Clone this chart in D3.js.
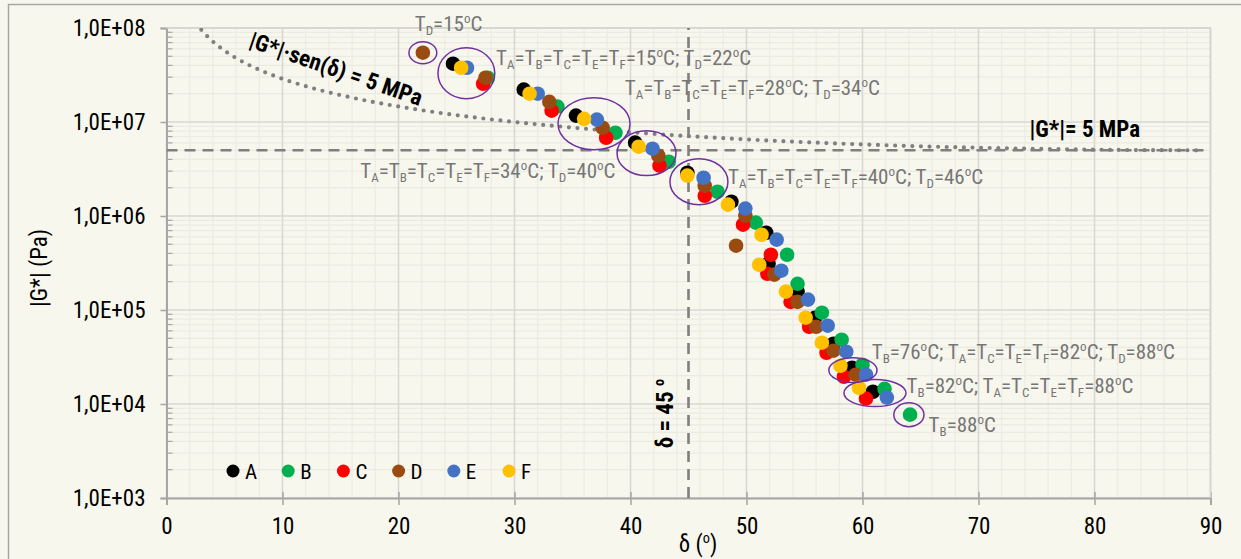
<!DOCTYPE html>
<html><head><meta charset="utf-8">
<script src="https://cdn.jsdelivr.net/npm/d3@7"></script>
<style>body{margin:0;background:#F8F7EE}svg{display:block}</style>
</head><body>
<svg id="c" width="1241" height="559"></svg>
<script>
// ---------- data ----------
const temps = [15,22,28,34,40,46,52,58,64,70,76,82,88];
const seriesNames = ["A","B","C","D","E","F"];
const seriesColors = ["#000000","#00B050","#FF0000","#9A4B12","#4472C4","#FFC000"];
const deltaA = [24.7,30.8,35.3,40.4,44.9,48.7,51.7,51.9,54.4,55.9,57.5,59.1,60.9];
const gA     = [4.17e7,2.21e7,1.17e7,6.03e6,2.89e6,1.42e6,6.64e5,3.11e5,1.57e5,8.28e4,4.38e4,2.43e4,1.35e4];
const deltaB = [27.7,33.7,38.7,43.3,47.5,50.8,53.5,54.4,56.5,58.2,60.0,61.9,64.1];
const gB     = [2.96e7,1.46e7,7.69e6,3.78e6,1.81e6,8.5e5,3.87e5,1.9e5,9.36e4,4.83e4,2.62e4,1.45e4,7.7e3];
const deltaC = [27.3,33.2,37.9,42.5,46.4,49.7,52.1,51.8,53.8,55.4,56.9,58.4,60.3];
const gC     = [2.55e7,1.32e7,6.8e6,3.43e6,1.64e6,8.08e5,3.87e5,2.43e5,1.22e5,6.64e4,3.51e4,1.95e4,1.14e4];
const deltaD = [22.1,27.5,33.0,37.6,42.4,46.4,49.9,49.1,52.4,54.4,56.0,57.5,59.4];
const gD     = [5.46e7,2.96e7,1.64e7,8.69e6,4.38e6,2.1e6,1.01e6,4.83e5,2.38e5,1.22e5,6.64e4,3.69e4,2.05e4];
const deltaE = [25.9,32.0,37.1,41.9,46.3,49.9,52.6,53.0,55.3,57.0,58.6,60.3,62.1];
const gE     = [3.78e7,2.0e7,1.06e7,5.2e6,2.55e6,1.2e6,5.6e5,2.62e5,1.29e5,6.81e4,3.6e4,2.05e4,1.17e4];
const deltaF = [25.4,31.3,36.0,40.7,44.9,48.4,51.3,51.1,53.4,55.1,56.5,58.1,59.7];
const gF     = [3.78e7,2.0e7,1.08e7,5.46e6,2.69e6,1.32e6,6.32e5,3.03e5,1.57e5,8.28e4,4.49e4,2.55e4,1.49e4];

const xTicks = [0,10,20,30,40,50,60,70,80,90];
const yTicks = [1e3,1e4,1e5,1e6,1e7,1e8];

const limitG = 5e6;        // |G*| = 5 MPa
const limitDelta = 45;     // δ = 45º

const annoTexts = ["T_D=15^oC","T_A=T_B=T_C=T_E=T_F=15^oC; T_D=22^oC","T_A=T_B=T_C=T_E=T_F=28^oC; T_D=34^oC",
  "T_A=T_B=T_C=T_E=T_F=34^oC; T_D=40^oC","T_A=T_B=T_C=T_E=T_F=40^oC; T_D=46^oC",
  "T_B=76^oC; T_A=T_C=T_E=T_F=82^oC; T_D=88^oC","T_B=82^oC; T_A=T_C=T_E=T_F=88^oC","T_B=88^oC"];
const annoDelta = [21.4,28.4,39.5,16.7,48.4,60.8,63.8,65.7];
const annoG = [9.35e7,4.08e7,1.95e7,2.55e6,2.2e6,3.04e4,1.32e4,5.08e3];

const ringDeltaMin = [20.9,23.4,33.75,38.84,43.4,57.1,58.4,62.7];
const ringDeltaMax = [23.3,28.3,39.96,43.92,48.4,61.25,63.75,65.3];
const ringGMax = [7.14e7,6.16e7,1.81e7,8.07e6,4.07e6,3.11e4,1.82e4,1.03e4];
const ringGMin = [4.17e7,1.77e7,5.07e6,2.69e6,1.32e6,1.69e4,9.4e3,5.74e3];

// ---------- setup ----------
const FONT = "'Liberation Sans Narrow','Arial Narrow','Roboto Condensed',sans-serif";
const BG = "#F8F7EE";
const svg = d3.select("#c");
const x = d3.scaleLinear().domain([0,90]).range([166.5,1210.5]);
const y = d3.scaleLog().domain([1e3,1e8]).range([498,28]);

svg.append("rect").attr("width",1241).attr("height",559).attr("fill",BG);
svg.append("rect").attr("x",8.5).attr("y",4.5).attr("width",1400).attr("height",700)
  .attr("fill","none").attr("stroke","#a6a6a6").attr("stroke-width",1.5);

// grid
const minorX = d3.range(0,91,2).filter(d=>d%10!==0);
const minorY = [];
for (let e=3;e<8;e++) for (let m=2;m<10;m++) minorY.push(m*Math.pow(10,e));
const grid = svg.append("g");
grid.selectAll(".mx").data(minorX).join("line")
  .attr("x1",d=>x(d)).attr("x2",d=>x(d)).attr("y1",y(1e3)).attr("y2",y(1e8))
  .attr("stroke","#ecebe3").attr("stroke-width",1.2);
grid.selectAll(".my").data(minorY).join("line")
  .attr("x1",x(0)).attr("x2",x(90)).attr("y1",d=>y(d)).attr("y2",d=>y(d))
  .attr("stroke","#ecebe3").attr("stroke-width",1.2);
grid.selectAll(".Mx").data(xTicks).join("line")
  .attr("x1",d=>x(d)).attr("x2",d=>x(d)).attr("y1",y(1e3)).attr("y2",y(1e8))
  .attr("stroke","#d8d8d4").attr("stroke-width",1.6);
grid.selectAll(".My").data(yTicks).join("line")
  .attr("x1",x(0)).attr("x2",x(90)).attr("y1",d=>y(d)).attr("y2",d=>y(d))
  .attr("stroke","#d8d8d4").attr("stroke-width",1.6);

// axes
const fmt = d => "1,0E+" + String(Math.round(Math.log10(d))).padStart(2,"0");
const yAx = svg.append("g").attr("transform",`translate(${x(0)},0)`)
  .call(d3.axisLeft(y).tickValues(yTicks).tickFormat(fmt).tickSize(6).tickPadding(15));
yAx.select(".domain").attr("stroke","#a6a6a6").attr("stroke-width",2);
yAx.selectAll(".tick line").attr("stroke","#a6a6a6").attr("stroke-width",1.5);
yAx.selectAll(".tick text").attr("font-family",FONT).attr("font-size",23).attr("fill","#000");
yAx.selectAll(".minor").data(minorY).join("line").attr("class","minor")
  .attr("x1",0).attr("x2",6).attr("y1",d=>y(d)).attr("y2",d=>y(d))
  .attr("stroke","#a6a6a6").attr("stroke-width",1.2);

const xAx = svg.append("g").attr("transform",`translate(0,${y(1e3)})`)
  .call(d3.axisBottom(x).tickValues(xTicks).tickSize(7).tickPadding(13));
xAx.select(".domain").attr("stroke","#a6a6a6").attr("stroke-width",2);
xAx.selectAll(".tick line").attr("y1",-6).attr("y2",7).attr("stroke","#a6a6a6").attr("stroke-width",1.5);
xAx.selectAll(".tick text").attr("font-family",FONT).attr("font-size",23).attr("fill","#000");

// plot border top/right
svg.append("path").attr("d",`M${x(0)},${y(1e8)}H${x(90)}V${y(1e3)}`)
  .attr("fill","none").attr("stroke","#d4d4d0").attr("stroke-width",1.6);

// rich text helper
function rich(sel, str, fs){
  const re = /_([A-Z])|\^(o)|([^_^]+)/g;
  let m, cur = 0;
  while ((m = re.exec(str)) !== null){
    let txt, size, off;
    if (m[1]) { txt=m[1]; size=fs*0.62; off=fs*0.22; }
    else if (m[2]) { txt=m[2]; size=fs*0.62; off=-fs*0.38; }
    else { txt=m[3]; size=fs; off=0; }
    sel.append("tspan").attr("font-size",size).attr("dy",off-cur).text(txt);
    cur = off;
  }
}

// reference lines
const clipId = "pc";
svg.append("clipPath").attr("id",clipId).append("rect")
  .attr("x",x(0)).attr("y",y(1e8)).attr("width",x(90)-x(0)).attr("height",y(1e3)-y(1e8));
const ref = svg.append("g").attr("clip-path",`url(#${clipId})`);
ref.append("line").attr("x1",x(0)).attr("x2",x(89.6)).attr("y1",y(limitG)).attr("y2",y(limitG))
  .attr("stroke","#7f7f7f").attr("stroke-width",2.6).attr("stroke-dasharray","11 7");
ref.append("line").attr("x1",x(limitDelta)).attr("x2",x(limitDelta)).attr("y1",y(1e3)).attr("y2",y(1e8))
  .attr("stroke","#7f7f7f").attr("stroke-width",2.6).attr("stroke-dasharray","11 7");
const curveDelta = d3.range(2.8,89.6,0.2);
const curve = curveDelta.map(d => [d, limitG/Math.sin(d*Math.PI/180)]).filter(p=>p[1]<=1e8*1.02);
ref.append("path").datum(curve)
  .attr("d", d3.line().x(p=>x(p[0])).y(p=>y(p[1])))
  .attr("fill","none").attr("stroke","#808080").attr("stroke-width",4.2)
  .attr("stroke-linecap","round").attr("stroke-dasharray","0 8.6");

// points
const deltas = [deltaA,deltaB,deltaC,deltaD,deltaE,deltaF];
const gs = [gA,gB,gC,gD,gE,gF];
seriesNames.forEach((s,i)=>{
  svg.append("g").selectAll("circle").data(deltas[i].map((d,j)=>[d,gs[i][j]])).join("circle")
    .attr("cx",p=>x(p[0])).attr("cy",p=>y(p[1])).attr("r",7.3).attr("fill",seriesColors[i]);
});

// ellipses
svg.append("g").selectAll("ellipse").data(ringDeltaMin.map((d,i)=>i)).join("ellipse")
  .attr("cx",i=>(x(ringDeltaMin[i])+x(ringDeltaMax[i]))/2)
  .attr("cy",i=>(y(ringGMin[i])+y(ringGMax[i]))/2)
  .attr("rx",i=>(x(ringDeltaMax[i])-x(ringDeltaMin[i]))/2)
  .attr("ry",i=>(y(ringGMin[i])-y(ringGMax[i]))/2)
  .attr("fill","none").attr("stroke","#7030A0").attr("stroke-width",1.5);

// annotations
annoTexts.forEach((t,i)=>{
  const tx = svg.append("text").attr("x",x(annoDelta[i])).attr("y",y(annoG[i]))
    .attr("font-family",FONT).attr("fill","#767676");
  rich(tx,t,21);
});

// bold labels
const bl = svg.append("text")
  .attr("transform",`translate(${x(7.0)},${y(6.3e7)}) rotate(19)`)
  .attr("font-family",FONT).attr("font-size",23).attr("font-weight","bold").attr("fill","#000")
  .text("|G*|·sen(δ) = 5 MPa");
svg.append("text").attr("x",x(74.4)).attr("y",y(6.98e6))
  .attr("font-family",FONT).attr("font-size",23).attr("font-weight","bold").attr("fill","#000")
  .text("|G*|= 5 MPa");
const d45 = svg.append("text")
  .attr("transform",`translate(${x(43.66)},${y(7.9e3)}) rotate(-90)`)
  .attr("text-anchor","middle").attr("font-family",FONT).attr("font-weight","bold").attr("fill","#000");
rich(d45,"δ = 45 ^o",23);

// axis titles
const xt = svg.append("text").attr("x",698).attr("y",552).attr("text-anchor","middle")
  .attr("font-family",FONT).attr("fill","#000");
rich(xt,"δ (^o)",23);
svg.append("text").attr("transform","translate(47,268) rotate(-90)").attr("text-anchor","middle")
  .attr("font-family",FONT).attr("font-size",23).attr("fill","#000").text("|G*| (Pa)");

// legend
const lg = svg.append("g").attr("transform","translate(233,471)");
const li = lg.selectAll("g").data(seriesNames).join("g").attr("transform",(d,i)=>`translate(${i*55.2},0)`);
li.append("circle").attr("r",6.5).attr("fill",(d,i)=>seriesColors[i]);
li.append("text").attr("x",12).attr("y",8).attr("font-family",FONT).attr("font-size",21).attr("fill","#000").text(d=>d);
</script>
</body></html>
